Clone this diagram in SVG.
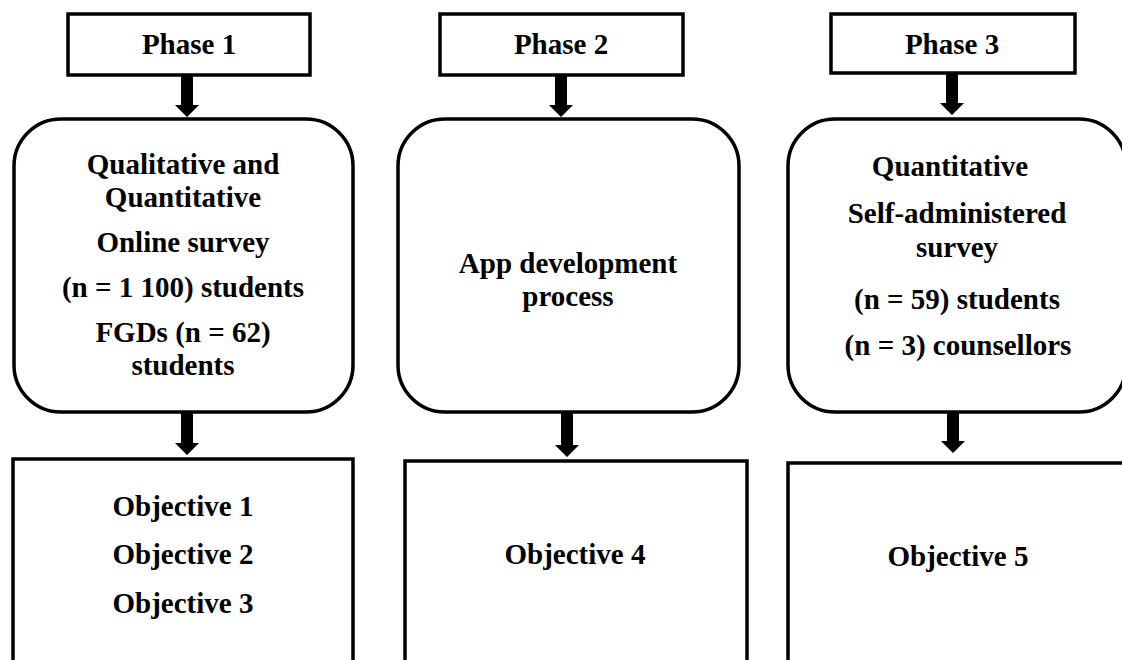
<svg xmlns="http://www.w3.org/2000/svg" width="1122" height="660" viewBox="0 0 1122 660">
<style>
.box{fill:#fff;stroke:#000;stroke-width:3.5}
.t{font-family:"Liberation Serif","Times New Roman",serif;font-weight:bold;font-size:29px;fill:#000;text-anchor:middle}
.arr{fill:#000;stroke:none}
</style>
<rect width="1122" height="660" fill="#fff"/>
<g id="phase1"><rect class="box" x="68" y="14" width="242" height="61"/><text class="t" x="189" y="54">Phase 1</text></g>
<g id="phase2"><rect class="box" x="440" y="14" width="243" height="61"/><text class="t" x="561" y="54">Phase 2</text></g>
<g id="phase3"><rect class="box" x="831" y="14" width="244" height="59"/><text class="t" x="952" y="54">Phase 3</text></g>
<g id="method1"><rect class="box" x="14" y="119" width="339" height="293" rx="47" ry="47"/>
<text class="t" x="183" y="174">Qualitative and</text>
<text class="t" x="183" y="207">Quantitative</text>
<text class="t" x="183" y="252">Online survey</text>
<text class="t" x="183" y="297">(n = 1 100) students</text>
<text class="t" x="183" y="342">FGDs (n = 62)</text>
<text class="t" x="183" y="375">students</text></g>
<g id="method2"><rect class="box" x="398" y="119" width="341" height="293" rx="47" ry="47"/>
<text class="t" x="568" y="273">App development</text>
<text class="t" x="568" y="306">process</text></g>
<g id="method3"><rect class="box" x="788" y="119" width="338" height="293" rx="47" ry="47"/>
<text class="t" x="950" y="176">Quantitative</text>
<text class="t" x="957" y="223">Self-administered</text>
<text class="t" x="957" y="257">survey</text>
<text class="t" x="957" y="309">(n = 59) students</text>
<text class="t" x="958" y="355">(n = 3) counsellors</text></g>
<g id="obj1"><rect class="box" x="13" y="459" width="340" height="230"/>
<text class="t" x="183" y="516">Objective 1</text>
<text class="t" x="183" y="564">Objective 2</text>
<text class="t" x="183" y="613">Objective 3</text></g>
<g id="obj2"><rect class="box" x="405" y="461" width="342" height="230"/>
<text class="t" x="575" y="564">Objective 4</text></g>
<g id="obj3"><rect class="box" x="788" y="463" width="360" height="230"/>
<text class="t" x="958" y="566">Objective 5</text></g>
<g id="connectors">
<path class="arr" d="M181,75 H193 V105 H199 L187,117 L175,105 H181 Z"/>
<path class="arr" d="M555,75 H567 V105 H573 L561,117 L549,105 H555 Z"/>
<path class="arr" d="M946,73 H958 V103 H964 L952,115 L940,103 H946 Z"/>
<path class="arr" d="M181,412 H193 V443 H199 L187,455 L175,443 H181 Z"/>
<path class="arr" d="M561,412 H573 V445 H579 L567,457 L555,445 H561 Z"/>
<path class="arr" d="M947,412 H959 V441 H965 L953,453 L941,441 H947 Z"/>
</g>
</svg>
